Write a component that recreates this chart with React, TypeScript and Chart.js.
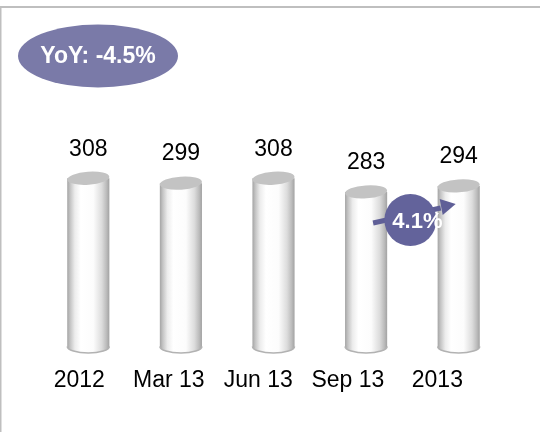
import React, { useEffect, useRef } from "react";
import { Chart, registerables } from "chart.js";

Chart.register(...registerables);

const categories = ["2012", "Mar 13", "Jun 13", "Sep 13", "2013"];
const values = [308, 299, 308, 283, 294];
const yoyLabel = "YoY: -4.5%";
const changeLabel = "4.1%";

const FONT = "'Liberation Sans', Arial, Helvetica, sans-serif";

export default function App() {
  const ref = useRef<HTMLCanvasElement>(null);

  useEffect(() => {
    if (!ref.current) return;

    const framePlugin = {
      id: "frame",
      beforeDraw(chart: any) {
        const ctx = chart.ctx;
        ctx.save();
        ctx.fillStyle = "#ffffff";
        ctx.fillRect(0, 0, chart.width, chart.height);
        ctx.fillStyle = "#bfbfbf";
        ctx.fillRect(0, 6, chart.width, 2);
        ctx.fillRect(0, 6, 1.5, chart.height - 6);
        ctx.restore();
      },
    };

    const cylinderPlugin = {
      id: "cylinders",
      afterDatasetsDraw(chart: any) {
        const ctx = chart.ctx;
        const meta = chart.getDatasetMeta(0);
        meta.data.forEach((el: any, i: number) => {
          const { x, y, base, width } = el.getProps(["x", "y", "base", "width"], true);
          const l = x - width / 2;
          const r = x + width / 2;
          const ry = 6.5;
          ctx.save();
          const g = ctx.createLinearGradient(l, 0, r, 0);
          g.addColorStop(0, "#a4a4a4");
          g.addColorStop(0.07, "#c4c4c4");
          g.addColorStop(0.18, "#ececec");
          g.addColorStop(0.32, "#ffffff");
          g.addColorStop(0.62, "#fcfcfc");
          g.addColorStop(0.82, "#dcdcdc");
          g.addColorStop(0.93, "#bcbcbc");
          g.addColorStop(1, "#a2a2a2");
          ctx.beginPath();
          ctx.moveTo(l, y);
          ctx.lineTo(l, base);
          ctx.ellipse(x, base, width / 2, ry, 0, Math.PI, 0, true);
          ctx.lineTo(r, y);
          ctx.closePath();
          ctx.fillStyle = g;
          ctx.fill();
          ctx.beginPath();
          ctx.ellipse(x, base, width / 2, ry, 0, Math.PI, 0, true);
          ctx.strokeStyle = "#b2b2b2";
          ctx.lineWidth = 1.5;
          ctx.stroke();
          ctx.beginPath();
          ctx.ellipse(x, y, width / 2, ry, -0.07, 0, Math.PI * 2);
          ctx.fillStyle = "#c3c3c3";
          ctx.fill();
          ctx.fillStyle = "#000000";
          ctx.font = `23px ${FONT}`;
          ctx.textAlign = "center";
          ctx.textBaseline = "middle";
          ctx.fillText(String(values[i]), x, y - 29);
          ctx.restore();
        });
      },
    };

    const calloutPlugin = {
      id: "callouts",
      afterDraw(chart: any) {
        const ctx = chart.ctx;
        const meta = chart.getDatasetMeta(0);
        ctx.save();
        ctx.beginPath();
        ctx.ellipse(98, 56, 80, 31.5, 0, 0, Math.PI * 2);
        ctx.fillStyle = "#7a7aa8";
        ctx.fill();
        ctx.fillStyle = "#ffffff";
        ctx.font = `bold 23px ${FONT}`;
        ctx.textAlign = "center";
        ctx.textBaseline = "middle";
        ctx.fillText(yoyLabel, 98, 57);

        const a = meta.data[3].getProps(["x", "y"], true);
        const b = meta.data[4].getProps(["x", "y"], true);
        const cx = (a.x + b.x) / 2;
        const cy = 220;
        ctx.strokeStyle = "#5f5f97";
        ctx.fillStyle = "#5f5f97";
        ctx.lineWidth = 5;
        ctx.beginPath();
        ctx.moveTo(a.x + 7, 223);
        ctx.lineTo(b.x - 18, 208);
        ctx.stroke();
        ctx.beginPath();
        ctx.moveTo(b.x - 3, 204);
        ctx.lineTo(b.x - 19, 199);
        ctx.lineTo(b.x - 16, 215);
        ctx.closePath();
        ctx.fill();
        ctx.beginPath();
        ctx.arc(cx - 2, cy, 26, 0, Math.PI * 2);
        ctx.fillStyle = "#63639b";
        ctx.fill();
        ctx.fillStyle = "#ffffff";
        ctx.font = `bold 22px ${FONT}`;
        ctx.fillText(changeLabel, cx + 5, cy + 2);
        ctx.restore();
      },
    };

    const chart = new Chart(ref.current, {
      type: "bar",
      data: {
        labels: categories,
        datasets: [
          {
            data: values,
            backgroundColor: "rgba(0,0,0,0)",
            borderWidth: 0,
            categoryPercentage: 1,
            barPercentage: 0.455,
            xAxisID: "x",
          },
        ],
      },
      options: {
        animation: false,
        responsive: false,
        maintainAspectRatio: false,
        events: [],
        layout: { padding: { left: 42, right: 35, top: 128, bottom: 26 } },
        plugins: {
          legend: { display: false },
          tooltip: { enabled: false },
        },
        scales: {
          x: { type: "category", display: false },
          xl: {
            type: "linear",
            position: "bottom",
            offset: false,
            min: -0.417,
            max: 4.756,
            grid: { display: false, offset: false },
            border: { display: false },
            afterBuildTicks: (axis: any) => {
              axis.ticks = categories.map((_, i) => ({ value: i }));
            },
            ticks: {
              font: { family: FONT, size: 23 },
              color: "#000000",
              padding: 12,
              maxRotation: 0,
              autoSkip: false,
              callback: (v: any) => categories[Math.round(Number(v))] ?? "",
            },
          },
          y: { display: false, min: 0, max: 400 },
        },
      },
      plugins: [framePlugin, cylinderPlugin, calloutPlugin],
    });
    return () => chart.destroy();
  }, []);

  return (
    <div style={{ position: "fixed", left: 0, top: 0, width: 540, height: 432, background: "#fff" }}>
      <canvas ref={ref} width={540} height={432} style={{ display: "block", width: 540, height: 432 }} />
    </div>
  );
}
